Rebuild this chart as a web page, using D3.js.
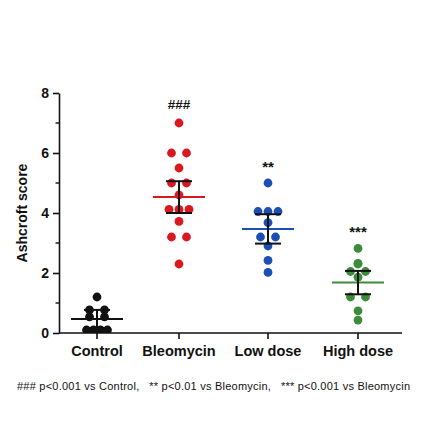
<!DOCTYPE html>
<html>
<head>
<meta charset="utf-8">
<script src="https://cdn.jsdelivr.net/npm/d3@7/dist/d3.min.js"></script>
<style>
  html, body { margin: 0; padding: 0; background: #fff; }
  svg { display: block; }
  text { font-family: "Liberation Sans", Arial, sans-serif; }
</style>
</head>
<body>
<script>
// ---- data ----
const categories = ["Control", "Bleomycin", "Low dose", "High dose"];
const controlValues   = [1.2, 0.77, 0.77, 0.54, 0.54, 0.1, 0.1, 0.1, 0.1];
const bleomycinValues = [7.0, 6.0, 6.0, 5.5, 5.0, 5.0, 4.6, 4.12, 4.12, 4.12, 3.72, 3.2, 3.2, 2.3];
const lowDoseValues   = [5.0, 4.05, 4.05, 4.05, 3.68, 3.2, 3.2, 2.9, 2.42, 2.02];
const highDoseValues  = [2.82, 2.32, 2.3, 2.05, 2.05, 1.86, 1.2, 1.2, 0.74, 0.43];
const groupMeans  = [0.47, 4.53, 3.47, 1.68];
const groupErrors = [0.30, 0.53, 0.49, 0.39];
const significance = ["", "###", "**", "***"];
const yTicks = [0, 2, 4, 6, 8];
const yMinorTicks = [1, 3, 5, 7];
const yLabel = "Ashcroft score";
const footnote = "### p<0.001 vs Control,   ** p<0.01 vs Bleomycin,   *** p<0.001 vs Bleomycin";

const seriesValues = [controlValues, bleomycinValues, lowDoseValues, highDoseValues];
const colors = ["#111111", "#d9191f", "#1b4fb3", "#3c8c3c"];

// ---- layout ----
const W = 424, H = 442;
const svg = d3.select("body").append("svg").attr("width", W).attr("height", H);
svg.append("rect").attr("width", W).attr("height", H).attr("fill", "#fff");

const y = d3.scaleLinear().domain([0, 8]).range([333, 93]);
const x = d3.scaleOrdinal().domain(categories).range([97, 179, 268, 358]);
const axisX0 = 59, axisX1 = 402;

svg.append("clipPath").attr("id", "plot")
  .append("rect").attr("x", axisX0).attr("y", 60).attr("width", axisX1 - axisX0).attr("height", y(0) - 60);

// ---- points (simple row-based scatter) ----
function offsets(vals) {
  const groups = d3.group(vals.map((v, i) => ({v, i})), d => d.v);
  const out = new Array(vals.length);
  groups.forEach(arr => {
    const n = arr.length;
    const sp = n === 2 ? 15 : n === 3 ? 10 : 7;
    arr.forEach((d, k) => { out[d.i] = (k - (n - 1) / 2) * sp; });
  });
  return out;
}

const plot = svg.append("g").attr("clip-path", "url(#plot)");
seriesValues.forEach((vals, gi) => {
  const cat = categories[gi];
  const off = offsets(vals);
  plot.selectAll(null).data(vals).enter().append("circle")
    .attr("cx", (d, i) => x(cat) + off[i])
    .attr("cy", d => y(d))
    .attr("r", 4.4)
    .attr("fill", colors[gi]);
});

// ---- mean lines and error bars ----
categories.forEach((cat, gi) => {
  const m = groupMeans[gi], e = groupErrors[gi];
  const cx = x(cat);
  svg.append("line")
    .attr("x1", cx - 26).attr("x2", cx + 26)
    .attr("y1", y(m)).attr("y2", y(m))
    .attr("stroke", colors[gi]).attr("stroke-width", 2);
  const g = svg.append("g").attr("stroke", "#111").attr("stroke-width", 2);
  g.append("line").attr("x1", cx).attr("x2", cx).attr("y1", y(m + e)).attr("y2", Math.min(y(m - e), y(0)));
  g.append("line").attr("x1", cx - 13).attr("x2", cx + 13).attr("y1", y(m + e)).attr("y2", y(m + e));
  if (m - e > 0.05) {
    g.append("line").attr("x1", cx - 13).attr("x2", cx + 13).attr("y1", y(m - e)).attr("y2", y(m - e));
  }
});

// ---- y axis ----
const yAxis = svg.append("g").attr("transform", `translate(${axisX0},0)`)
  .call(d3.axisLeft(y).tickValues(yTicks).tickSize(6).tickSizeOuter(0).tickPadding(4));
yAxis.select(".domain").attr("stroke", "#111").attr("stroke-width", 1.6);
yAxis.selectAll(".tick line").attr("stroke", "#111").attr("stroke-width", 1.6);
yAxis.selectAll(".tick text")
  .attr("font-family", "Liberation Sans, Arial, sans-serif")
  .attr("font-size", 14).attr("font-weight", "bold").attr("fill", "#111");
svg.append("g").attr("transform", `translate(${axisX0},0)`)
  .selectAll("line").data(yMinorTicks).enter().append("line")
  .attr("x1", -3.5).attr("x2", 0).attr("y1", d => y(d)).attr("y2", d => y(d))
  .attr("stroke", "#111").attr("stroke-width", 1.4);

// ---- x axis ----
svg.append("line").attr("x1", axisX0).attr("x2", axisX1)
  .attr("y1", y(0)).attr("y2", y(0)).attr("stroke", "#111").attr("stroke-width", 1.6);
svg.selectAll(".xtick").data(categories).enter().append("line")
  .attr("x1", d => x(d)).attr("x2", d => x(d))
  .attr("y1", y(0)).attr("y2", y(0) + 6)
  .attr("stroke", "#111").attr("stroke-width", 1.6);
svg.selectAll(".xlab").data(categories).enter().append("text")
  .attr("x", d => x(d)).attr("y", 356)
  .attr("text-anchor", "middle")
  .attr("font-size", 14.5).attr("font-weight", "bold").attr("fill", "#111")
  .text(d => d);

// ---- y label ----
svg.append("text")
  .attr("transform", `translate(27,${y(4)}) rotate(-90)`)
  .attr("text-anchor", "middle")
  .attr("font-size", 14).attr("font-weight", "bold").attr("fill", "#111")
  .text(yLabel);

// ---- significance markers ----
const sigY = categories.map((c, gi) => d3.max(seriesValues[gi]));
categories.forEach((cat, gi) => {
  if (!significance[gi]) return;
  svg.append("text")
    .attr("x", x(cat)).attr("y", y(sigY[gi]) - (gi === 1 ? 14 : 11))
    .attr("text-anchor", "middle")
    .attr("font-size", gi === 1 ? 13.5 : 15).attr("font-weight", "bold").attr("fill", "#111")
    .text(significance[gi]);
});

// ---- footnote ----
svg.append("text")
  .attr("x", 17).attr("y", 390)
  .attr("font-size", 11).attr("fill", "#111")
  .attr("textLength", 393).attr("lengthAdjust", "spacing")
  .style("white-space", "pre")
  .text(footnote);
</script>
</body>
</html>
